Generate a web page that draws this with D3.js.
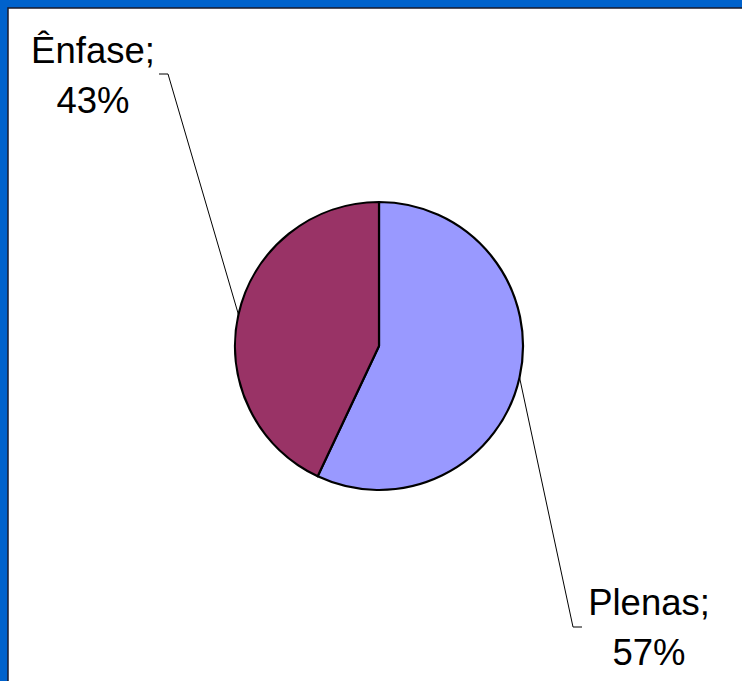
<!DOCTYPE html>
<html lang="pt">
<head>
    <meta charset="UTF-8">
    <script src="https://d3js.org/d3.v7.min.js"></script>
    <title>Plenas / Ênfase</title>
    <style>
        body { margin: 0; }
    </style>
</head>
<body>
    <script>
        var categories = ['Plenas', 'Ênfase'];
        var values = [57, 43];
        var colors = ['#9999ff', '#993366'];

        var width = 742;
        var height = 681;
        var cx = 379, cy = 346, radius = 144;

        // label anchors: elbow of leader line, text centre and first baseline
        var labelPos = [
            {elbow: [582, 627], knee: [573, 627], tx: 649, ty: 615},
            {elbow: [159, 74], knee: [168, 74], tx: 93, ty: 63}
        ];

        var svg = d3.select('body')
                    .append('svg')
                    .attr('width', width)
                    .attr('height', height);

        // frame
        svg.append('rect')
            .attr('width', width).attr('height', height)
            .attr('fill', '#0062cc');
        svg.append('rect')
            .attr('x', 8).attr('y', 8)
            .attr('width', width).attr('height', height)
            .attr('fill', '#ffffff')
            .attr('stroke', '#1a1a2a')
            .attr('stroke-width', 1.5);

        var pie = d3.pie().sort(null).value(function(d){ return d; });
        var arcs = pie(values);
        var arc = d3.arc().innerRadius(0).outerRadius(radius);

        var g = svg.append('g')
                   .attr('transform', 'translate(' + cx + ',' + cy + ')');

        // leader lines
        arcs.forEach(function(a, i){
            var mid = (a.startAngle + a.endAngle) / 2;
            var px = cx + radius * Math.sin(mid);
            var py = cy - radius * Math.cos(mid);
            var p = labelPos[i];
            svg.append('polyline')
                .attr('points', [[px, py], p.knee, p.elbow].map(function(q){ return q.join(','); }).join(' '))
                .attr('fill', 'none')
                .attr('stroke', '#000')
                .attr('stroke-width', 1);
        });

        g.selectAll('path')
            .data(arcs)
            .enter()
                .append('path')
                .attr('d', arc)
                .attr('fill', function(d, i){ return colors[i]; })
                .attr('stroke', '#000')
                .attr('stroke-width', 2.2)
                .attr('stroke-linejoin', 'round');

        // labels
        arcs.forEach(function(a, i){
            var p = labelPos[i];
            var t = svg.append('text')
                .attr('text-anchor', 'middle')
                .attr('font-family', 'Liberation Sans, Arial, sans-serif')
                .attr('font-size', '36.5px')
                .attr('fill', '#000');
            t.append('tspan').attr('x', p.tx).attr('y', p.ty).text(categories[i] + ';');
            t.append('tspan').attr('x', p.tx).attr('y', p.ty + 50).text(values[i] + '%');
        });
    </script>
</body>
</html>
